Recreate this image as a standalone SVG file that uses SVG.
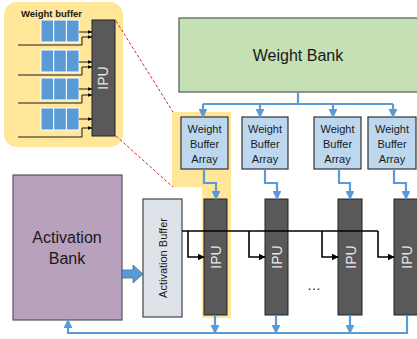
<svg xmlns="http://www.w3.org/2000/svg" width="417" height="339" viewBox="0 0 417 339">
<defs>
<style>
text{font-family:"Liberation Sans","Open Sans",sans-serif;fill:#1a1a1a}
.wba rect{fill:#bdd7ee;stroke:#333;stroke-width:1.2}
.wba text{font-size:11px;text-anchor:middle}
.ipu rect{fill:#595959;stroke:#222;stroke-width:1}
.ipu text{font-size:14px;fill:#e6e6e6;text-anchor:middle}
.blue{fill:none;stroke:#5b9bd5;stroke-width:2.2}
.blk{fill:none;stroke:#000;stroke-width:1.6}
.cell{fill:#5b9bd5;stroke:#fff;stroke-width:1}
.thin{fill:none;stroke:#1a1a1a;stroke-width:1}
.red{fill:none;stroke:#d9262c;stroke-width:1;stroke-dasharray:3 2}
</style>
<marker id="ab" viewBox="0 0 10 10" refX="9" refY="5" markerWidth="4" markerHeight="4" orient="auto"><path d="M0,0L10,5L0,10z" fill="#5b9bd5"/></marker>
<marker id="ak" viewBox="0 0 10 10" refX="9" refY="5" markerWidth="4.5" markerHeight="4.5" orient="auto"><path d="M0,0L10,5L0,10z" fill="#000"/></marker>
<marker id="as" viewBox="0 0 10 10" refX="9" refY="5" markerWidth="5" markerHeight="5" orient="auto"><path d="M0,1L10,5L0,9z" fill="#000"/></marker>
</defs>

<!-- highlight -->
<path d="M172,112H231V318H202V187H172z" fill="#ffe699"/>

<g id="inset">
<rect x="4" y="2" width="119" height="145" rx="13" fill="#ffe699"/>
<text x="21" y="17" font-size="9.5" font-weight="bold">Weight buffer</text>
<g>
<rect class="cell" x="41" y="20" width="12.7" height="22"/><rect class="cell" x="53.7" y="20" width="12.7" height="22"/><rect class="cell" x="66.4" y="20" width="12.7" height="22"/>
<rect class="cell" x="41" y="50" width="12.7" height="22"/><rect class="cell" x="53.7" y="50" width="12.7" height="22"/><rect class="cell" x="66.4" y="50" width="12.7" height="22"/>
<rect class="cell" x="41" y="78" width="12.7" height="22"/><rect class="cell" x="53.7" y="78" width="12.7" height="22"/><rect class="cell" x="66.4" y="78" width="12.7" height="22"/>
<rect class="cell" x="41" y="108" width="12.7" height="22"/><rect class="cell" x="53.7" y="108" width="12.7" height="22"/><rect class="cell" x="66.4" y="108" width="12.7" height="22"/>
</g>
<g class="thin">
<path d="M79,32H92" marker-end="url(#as)"/><path d="M18,45H82V37H92" marker-end="url(#as)"/>
<path d="M79,62H92" marker-end="url(#as)"/><path d="M18,75H82V67H92" marker-end="url(#as)"/>
<path d="M79,89H92" marker-end="url(#as)"/><path d="M18,103H82V95H92" marker-end="url(#as)"/>
<path d="M79,119H92" marker-end="url(#as)"/><path d="M18,137H82V128H92" marker-end="url(#as)"/>
</g>
<g class="ipu"><rect x="92" y="20" width="23" height="116"/><text transform="translate(108,78) rotate(-90)">IPU</text></g>
</g>

<g id="weight-bank">
<rect x="179" y="18" width="240" height="74" fill="#c5e0b4" stroke="#555" stroke-width="1.2"/>
<text x="298" y="61" font-size="16" text-anchor="middle">Weight Bank</text>
</g>

<g id="wba1" class="wba"><rect x="181" y="117" width="47" height="52"/><text x="204.5" y="133">Weight</text><text x="204.5" y="148">Buffer</text><text x="204.5" y="163">Array</text></g>
<g id="wba2" class="wba"><rect x="242" y="117" width="46" height="52"/><text x="265" y="133">Weight</text><text x="265" y="148">Buffer</text><text x="265" y="163">Array</text></g>
<g id="wba3" class="wba"><rect x="314" y="117" width="47" height="52"/><text x="337.5" y="133">Weight</text><text x="337.5" y="148">Buffer</text><text x="337.5" y="163">Array</text></g>
<g id="wba4" class="wba"><rect x="368" y="117" width="48" height="52"/><text x="392" y="133">Weight</text><text x="392" y="148">Buffer</text><text x="392" y="163">Array</text></g>

<g id="activation-bank">
<rect x="13" y="175" width="109" height="145" fill="#b7a1bc" stroke="#555" stroke-width="1.2"/>
<text x="67" y="243" font-size="16" text-anchor="middle">Activation</text>
<text x="67" y="264" font-size="16" text-anchor="middle">Bank</text>
</g>

<g id="activation-buffer">
<rect x="143" y="199" width="39" height="118" fill="#dee3ea" stroke="#444" stroke-width="1.2"/>
<text transform="translate(167,258) rotate(-90)" font-size="11" text-anchor="middle">Activation Buffer</text>
</g>

<g id="ipu1" class="ipu"><rect x="204" y="199" width="23" height="116"/><text transform="translate(221,257) rotate(-90)">IPU</text></g>
<g id="ipu2" class="ipu"><rect x="265" y="199" width="23" height="116"/><text transform="translate(282,257) rotate(-90)">IPU</text></g>
<g id="ipu3" class="ipu"><rect x="338" y="199" width="24" height="116"/><text transform="translate(355.5,257) rotate(-90)">IPU</text></g>
<g id="ipu4" class="ipu"><rect x="394" y="199" width="24" height="116"/><text transform="translate(411.5,257) rotate(-90)">IPU</text></g>

<text x="314" y="290" font-size="14" text-anchor="middle">…</text>

<g id="connectors">
<path class="red" d="M116,21L173,112"/>
<path class="red" d="M116,136L173,187"/>
<path class="blue" d="M298,92V104"/>
<path class="blue" d="M203,104H393"/>
<path class="blue" d="M203,104V117" marker-end="url(#ab)"/>
<path class="blue" d="M260,104V117" marker-end="url(#ab)"/>
<path class="blue" d="M333,104V117" marker-end="url(#ab)"/>
<path class="blue" d="M393,104V117" marker-end="url(#ab)"/>
<path class="blue" d="M204,169V183H216V199" marker-end="url(#ab)"/>
<path class="blue" d="M265,169V183H277V199" marker-end="url(#ab)"/>
<path class="blue" d="M339,169V183H350V199" marker-end="url(#ab)"/>
<path class="blue" d="M394,169V183H406V199" marker-end="url(#ab)"/>
<path class="blue" d="M215,315V333" marker-end="url(#ab)"/>
<path class="blue" d="M276,315V333" marker-end="url(#ab)"/>
<path class="blue" d="M350,315V333" marker-end="url(#ab)"/>
<path class="blue" d="M407,315V333H68V320" marker-end="url(#ab)"/>
<path d="M122,270H133V265L143,274L133,283V278H122z" fill="#5b9bd5" stroke="#41719c" stroke-width="0.8"/>
<path class="blk" d="M182,231H378"/>
<path class="blk" d="M188,231V257H204" marker-end="url(#ak)"/>
<path class="blk" d="M249,231V257H265" marker-end="url(#ak)"/>
<path class="blk" d="M322,231V257H338" marker-end="url(#ak)"/>
<path class="blk" d="M378,231V257H394" marker-end="url(#ak)"/>
</g>
</svg>
